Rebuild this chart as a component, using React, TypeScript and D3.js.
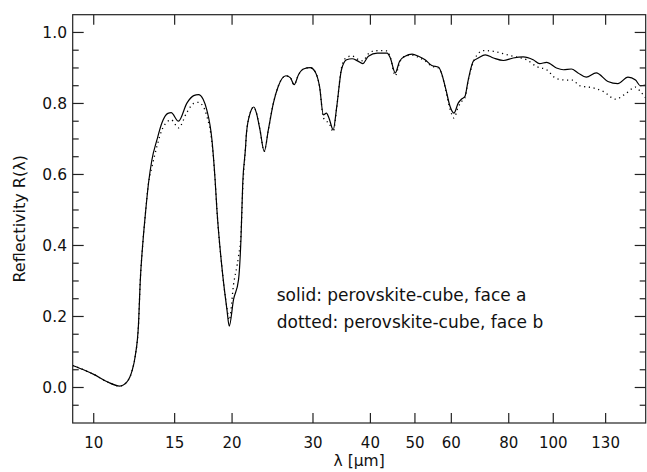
import React from 'react';
import * as d3 from 'd3';

const W = 647;
const H = 472;

// solid: perovskite-cube, face a
const solidLambda = [9.0, 9.5, 10.0, 10.7, 11.4, 11.8, 12.11, 12.31, 12.52, 12.62, 12.79, 12.94, 13.16, 13.38, 13.73, 14.07, 14.5, 14.74, 15.29, 15.95, 16.5, 16.9, 17.3, 17.62, 18.08, 18.37, 18.54, 19.0, 19.49, 19.72, 20.15, 20.66, 20.91, 21.1, 21.38, 21.5, 21.9, 22.3, 22.6, 23.0, 23.5, 23.99, 24.6, 25.2, 26.2, 26.8, 27.3, 27.9, 28.6, 29.6, 30.3, 31.0, 31.6, 32.1, 32.5, 33.2, 33.8, 34.6, 35.5, 36.5, 37.5, 38.5, 39.6, 41.4, 43.5, 44.2, 45.3, 46.3, 47.6, 49.3, 50.9, 52.6, 54.4, 56.3, 57.1, 58.4, 59.6, 60.8, 62.1, 63.1, 64.2, 65.3, 67.0, 68.7, 71.1, 74.1, 77.9, 81.8, 86.0, 90.4, 93.4, 96.7, 101.6, 105.2, 109.5, 113.2, 118.0, 124.0, 131.5, 138.2, 145.4, 151.0, 154.7, 159.0];
const solidR = [0.062, 0.05, 0.037, 0.016, 0.004, 0.015, 0.046, 0.088, 0.182, 0.295, 0.407, 0.482, 0.576, 0.64, 0.698, 0.745, 0.772, 0.774, 0.75, 0.801, 0.822, 0.825, 0.812, 0.782, 0.698, 0.585, 0.5, 0.341, 0.22, 0.173, 0.248, 0.304, 0.417, 0.576, 0.67, 0.717, 0.773, 0.79, 0.773, 0.726, 0.665, 0.726, 0.801, 0.848, 0.878, 0.872, 0.853, 0.881, 0.897, 0.901, 0.89, 0.848, 0.768, 0.773, 0.759, 0.726, 0.792, 0.895, 0.923, 0.926, 0.92, 0.912, 0.933, 0.942, 0.942, 0.928, 0.886, 0.919, 0.933, 0.939, 0.933, 0.923, 0.907, 0.902, 0.886, 0.839, 0.792, 0.773, 0.801, 0.812, 0.819, 0.866, 0.919, 0.928, 0.937, 0.928, 0.921, 0.928, 0.931, 0.923, 0.912, 0.916, 0.9, 0.895, 0.897, 0.886, 0.874, 0.886, 0.862, 0.856, 0.874, 0.866, 0.85, 0.852];

// dotted: perovskite-cube, face b
const dottedLambda = [9.0, 9.5, 10.0, 10.7, 11.4, 11.8, 12.11, 12.31, 12.52, 12.62, 12.79, 12.94, 13.16, 13.38, 13.73, 14.07, 14.5, 14.74, 15.29, 15.95, 16.5, 16.9, 17.3, 17.62, 18.08, 18.37, 18.54, 19.0, 19.49, 19.72, 20.15, 20.66, 20.91, 21.1, 21.38, 21.5, 21.9, 22.3, 22.6, 23.0, 23.5, 23.99, 24.6, 25.2, 26.2, 26.8, 27.3, 27.9, 28.6, 29.6, 30.3, 31.0, 31.6, 32.1, 32.5, 33.2, 33.8, 34.6, 35.5, 36.5, 37.5, 38.5, 39.6, 40.4, 42.0, 43.5, 44.2, 45.3, 46.3, 47.6, 49.3, 50.9, 52.6, 54.4, 56.3, 57.1, 58.4, 59.6, 60.8, 62.1, 63.1, 64.2, 65.3, 67.6, 70.5, 74.1, 77.9, 81.8, 87.5, 92.0, 96.7, 101.6, 106.8, 110.0, 114.1, 122.0, 128.4, 136.6, 144.2, 151.0, 154.7, 159.0];
const dottedR = [0.062, 0.05, 0.037, 0.016, 0.004, 0.015, 0.046, 0.088, 0.182, 0.295, 0.407, 0.482, 0.576, 0.62, 0.68, 0.725, 0.75, 0.754, 0.731, 0.775, 0.8, 0.803, 0.792, 0.765, 0.69, 0.585, 0.5, 0.341, 0.225, 0.19, 0.29, 0.37, 0.43, 0.56, 0.67, 0.717, 0.773, 0.79, 0.773, 0.726, 0.665, 0.726, 0.801, 0.848, 0.878, 0.872, 0.853, 0.881, 0.897, 0.901, 0.89, 0.848, 0.76, 0.75, 0.745, 0.72, 0.79, 0.9, 0.93, 0.934, 0.925, 0.92, 0.94, 0.947, 0.949, 0.948, 0.93, 0.878, 0.915, 0.933, 0.936, 0.93, 0.92, 0.905, 0.9, 0.885, 0.835, 0.785, 0.759, 0.79, 0.805, 0.815, 0.865, 0.928, 0.949, 0.947, 0.94, 0.933, 0.923, 0.904, 0.895, 0.87, 0.866, 0.866, 0.85, 0.844, 0.834, 0.812, 0.829, 0.846, 0.834, 0.815];

const xTickValues = [10, 15, 20, 30, 40, 50, 60, 80, 100, 130];
const xTickLabels = ['10', '15', '20', '30', '40', '50', '60', '80', '100', '130'];
const yTickValues = [0, 0.2, 0.4, 0.6, 0.8, 1.0];
const yTickLabels = ['0.0', '0.2', '0.4', '0.6', '0.8', '1.0'];

const legendLines = ['solid: perovskite-cube, face a', 'dotted: perovskite-cube, face b'];
const xTitle = 'λ [μm]';
const yTitle = 'Reflectivity R(λ)';

const L = 72.7, R = 645.7, T = 14.7, B = 423;
const FONT = '"DejaVu Sans", sans-serif';

export default function App() {
  const x = d3.scaleLog().domain([9.0, 158.9]).range([L, R]);
  const y = d3.scaleLinear().domain([-0.1, 1.05]).range([B, T]);
  const line = d3.line<[number, number]>().x(d => x(d[0])).y(d => y(d[1])).curve(d3.curveMonotoneX);
  const solidPts = solidLambda.map((l, i) => [l, solidR[i]] as [number, number]);
  const dottedPts = dottedLambda.map((l, i) => [l, dottedR[i]] as [number, number]);
  const minor = d3.range(-0.05, 1.05, 0.05).filter(v => !yTickValues.some(m => Math.abs(m - v) < 1e-6));

  return (
    <svg width={W} height={H} style={{ position: 'absolute', left: 0, top: 0, background: '#fff' }} fontFamily={FONT}>
      <defs>
        <clipPath id="plotclip"><rect x={L} y={T} width={R - L} height={B - T} /></clipPath>
      </defs>
      <rect x={0} y={0} width={W} height={H} fill="#fff" />
      <g clipPath="url(#plotclip)">
        <path d={line(dottedPts) || ''} fill="none" stroke="#000" strokeWidth={1.3} strokeDasharray="1.2 3.6" />
        <path d={line(solidPts) || ''} fill="none" stroke="#000" strokeWidth={1.2} />
      </g>
      <rect x={L} y={T} width={R - L} height={B - T} fill="none" stroke="#222" strokeWidth={1.2} />
      {xTickValues.map((v, i) => (
        <g key={'xt' + i}>
          <line x1={x(v)} x2={x(v)} y1={B} y2={B - 10} stroke="#222" strokeWidth={1.2} />
          <line x1={x(v)} x2={x(v)} y1={T} y2={T + 10} stroke="#222" strokeWidth={1.2} />
          <text x={x(v)} y={448} textAnchor="middle" fontSize={15} fill="#111">{xTickLabels[i]}</text>
        </g>
      ))}
      {yTickValues.map((v, i) => (
        <g key={'yt' + i}>
          <line x1={L} x2={L + 11} y1={y(v)} y2={y(v)} stroke="#222" strokeWidth={1.2} />
          <line x1={R} x2={R - 11} y1={y(v)} y2={y(v)} stroke="#222" strokeWidth={1.2} />
          <text x={67} y={y(v) + 5.7} textAnchor="end" fontSize={15.5} fill="#111">{yTickLabels[i]}</text>
        </g>
      ))}
      {minor.map((v, i) => (
        <g key={'ym' + i}>
          <line x1={L} x2={L + 6} y1={y(v)} y2={y(v)} stroke="#222" strokeWidth={1.2} />
          <line x1={R} x2={R - 6} y1={y(v)} y2={y(v)} stroke="#222" strokeWidth={1.2} />
        </g>
      ))}
      <text x={(L + R) / 2} y={466} textAnchor="middle" fontSize={15.5} fill="#111">{xTitle}</text>
      <text transform={`translate(25, ${(T + B) / 2}) rotate(-90)`} textAnchor="middle" fontSize={16} fill="#111">{yTitle}</text>
      {legendLines.map((t, i) => (
        <text key={'lg' + i} x={276.7} y={300.7 + i * 27.3} fontSize={17} fill="#111">{t}</text>
      ))}
    </svg>
  );
}
